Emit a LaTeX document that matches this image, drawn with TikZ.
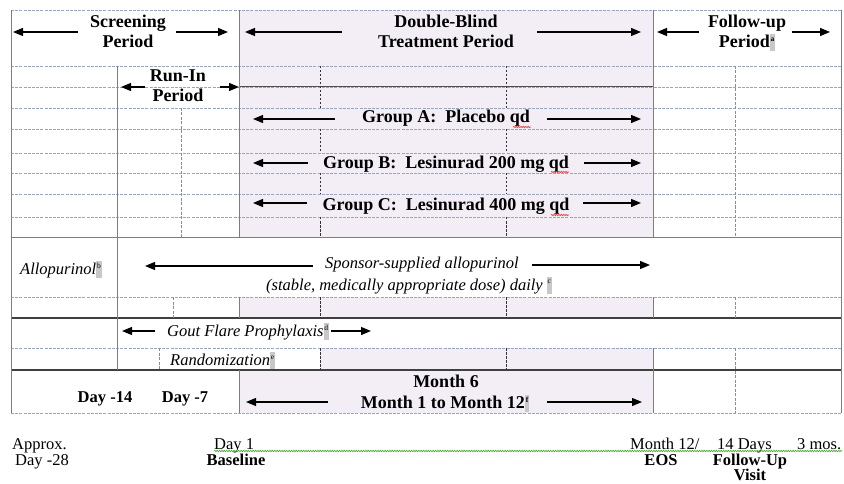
\documentclass[tikz,border=0pt]{standalone}
\usepackage{fontspec}
\setmainfont{Liberation Serif}
\usetikzlibrary{arrows.meta,decorations.pathmorphing}

\definecolor{dbfill}{RGB}{243,237,246}
\definecolor{gridblue}{RGB}{150,166,190}
\definecolor{rulegray}{RGB}{125,125,125}
\definecolor{spellgreen}{RGB}{80,170,60}
\definecolor{spellred}{RGB}{225,70,70}
\definecolor{fieldgray}{RGB}{200,200,200}

% superscript note letter in a grey field box
\newcommand{\fieldmark}[1]{{\setlength{\fboxsep}{0.8pt}\smash{\colorbox{fieldgray}{\rule[-3.5pt]{0pt}{16pt}\raisebox{6pt}{\fontsize{7.5}{7.5}\selectfont\upshape #1}}}}}

\begin{document}
\begin{tikzpicture}[x=1pt, y=-1pt,
    bigtxt/.style={font=\fontsize{18}{20}\selectfont\bfseries, inner sep=0pt},
    boldtxt/.style={font=\fontsize{16.5}{19}\selectfont\bfseries, inner sep=0pt, anchor=base},
    itxt/.style={font=\fontsize{16.5}{19}\selectfont\itshape, inner sep=0pt, anchor=base},
    rtxt/.style={font=\fontsize{16.5}{19}\selectfont, inner sep=0pt, anchor=base},
    arr/.style={-{Triangle[length=10pt,width=8pt]}, line width=1.2pt},
    gridline/.style={gridblue, dash pattern=on 3pt off 1.2pt, line width=0.7pt},
    solidv/.style={rulegray, line width=1pt},
    heavy/.style={black!75, line width=1.6pt},
    dashv/.style={black!80, dash pattern=on 2.5pt off 1.5pt, line width=0.8pt},
    lightv/.style={black!45, dash pattern=on 3pt off 1.5pt, line width=0.7pt},
    squiggle/.style={decorate, decoration={snake, amplitude=0.7pt, segment length=2.4pt}, line width=0.7pt}]
    \useasboundingbox (0,0) rectangle (844,484);

    % shaded double-blind column
    \fill[dbfill] (239,10) rectangle (653,237);
    \fill[dbfill] (239,297) rectangle (653,318);
    \fill[dbfill] (320,348) rectangle (653,370);
    \fill[dbfill] (239,370) rectangle (653,413);

    % table rows
    \foreach \y in {10,66,87,108,129,153,173,194,217,297,348,413}
        \draw[gridline] (11,\y) -- (841,\y);
    \draw[solidv] (11,237) -- (841,237);
    \draw[heavy] (11,318) -- (841,318);
    \draw[heavy] (11,370) -- (841,370);
    \draw[black!70, line width=1pt] (239,87) -- (653,87);

    % table columns
    \draw[solidv] (11,10) -- (11,413);
    \draw[solidv] (841,10) -- (841,413);
    \draw[solidv] (117,66) -- (117,370);
    \draw[solidv] (239,10) -- (239,237) (239,297) -- (239,318) (239,370) -- (239,413);
    \draw[solidv] (653,10) -- (653,237) (653,297) -- (653,318) (653,348) -- (653,413);
    \draw[lightv] (735,66) -- (735,237) (735,297) -- (735,318) (735,348) -- (735,413);
    \draw[lightv] (181,108) -- (181,237);
    \draw[lightv] (173,297) -- (173,318);
    \draw[lightv] (159,348) -- (159,370);
    \foreach \x in {320,506}
        \draw[dashv] (\x,66) -- (\x,108) (\x,129) -- (\x,153) (\x,173) -- (\x,194)
                     (\x,217) -- (\x,237) (\x,297) -- (\x,318) (\x,348) -- (\x,370);

    % period headings
    \node[bigtxt, align=center] (scr) at (128,31) {Screening\\Period};
    \node[bigtxt, align=center] (dbl) at (446,31) {Double-Blind\\Treatment Period};
    \node[bigtxt, align=center] (fup) at (747,31) {Follow-up\\Period\fieldmark{a}};
    \node[bigtxt, align=center] (run) at (178,86) {Run-In\\Period};

    \coordinate (scrA) at (78,32);  \coordinate (scrL) at (13,32);
    \coordinate (scrB) at (176,32); \coordinate (scrR) at (228,32);
    \coordinate (dblA) at (342,32); \coordinate (dblL) at (245,32);
    \coordinate (dblB) at (537,32); \coordinate (dblR) at (641,32);
    \coordinate (fupA) at (699,32); \coordinate (fupL) at (657,32);
    \coordinate (fupB) at (792,32); \coordinate (fupR) at (830,32);
    \coordinate (runA) at (145,87); \coordinate (runL) at (121,87);
    \coordinate (runB) at (220,87); \coordinate (runR) at (239,87);
    \draw[arr] (scrA) -- (scrL);
    \draw[arr] (scrB) -- (scrR);
    \draw[arr] (dblA) -- (dblL);
    \draw[arr] (dblB) -- (dblR);
    \draw[arr] (fupA) -- (fupL);
    \draw[arr] (fupB) -- (fupR);
    \draw[arr] (runA) -- (runL);
    \draw[arr] (runB) -- (runR);

    % treatment groups
    \node[bigtxt, anchor=base] (grpA) at (446,123) {Group A:\ \ Placebo qd};
    \node[bigtxt, anchor=base] (grpB) at (446,168) {Group B:\ \ Lesinurad 200 mg qd};
    \node[bigtxt, anchor=base] (grpC) at (446,211) {Group C:\ \ Lesinurad 400 mg qd};

    \coordinate (grpAa) at (335,119); \coordinate (grpAL) at (253,119);
    \coordinate (grpAb) at (547,119); \coordinate (grpAR) at (641,119);
    \coordinate (grpBa) at (308,163); \coordinate (grpBL) at (253,163);
    \coordinate (grpBb) at (584,163); \coordinate (grpBR) at (641,163);
    \coordinate (grpCa) at (307,203); \coordinate (grpCL) at (253,203);
    \coordinate (grpCb) at (583,203); \coordinate (grpCR) at (641,203);
    \draw[arr] (grpAa) -- (grpAL);
    \draw[arr] (grpAb) -- (grpAR);
    \draw[arr] (grpBa) -- (grpBL);
    \draw[arr] (grpBb) -- (grpBR);
    \draw[arr] (grpCa) -- (grpCL);
    \draw[arr] (grpCb) -- (grpCR);
    \draw[spellred, squiggle] (513,127) -- (531,127);
    \draw[spellred, squiggle] (551,172) -- (569,172);
    \draw[spellred, squiggle] (551,215) -- (569,215);

    % background medication
    \node[itxt, anchor=base west] (allo) at (20,274) {Allopurinol\fieldmark{b}};
    \node[itxt] (spons) at (422,269) {Sponsor-supplied allopurinol};
    \node[itxt] (dose) at (409,290) {(stable, medically appropriate dose) daily \fieldmark{c}};
    \coordinate (sponsA) at (313,266); \coordinate (sponsL) at (145,266);
    \coordinate (sponsB) at (532,265); \coordinate (sponsR) at (650,265);
    \draw[arr] (sponsA) -- (sponsL);
    \draw[arr] (sponsB) -- (sponsR);

    \node[itxt, anchor=base west] (gout) at (167,336) {Gout Flare Prophylaxis\fieldmark{d}};
    \coordinate (goutA) at (155,331); \coordinate (goutL) at (122,331);
    \coordinate (goutB) at (331,331); \coordinate (goutR) at (371,331);
    \draw[arr] (goutA) -- (goutL);
    \draw[arr] (goutB) -- (goutR);
    \node[itxt, anchor=base west] (rand) at (170,365) {Randomization\fieldmark{e}};

    % visit row
    \node[boldtxt] (d14) at (105,402) {Day -14};
    \node[boldtxt] (d7) at (185,402) {Day -7};
    \node[bigtxt, anchor=base] (m6) at (446,387) {Month 6};
    \node[bigtxt, anchor=base] (m12) at (445,408) {Month 1 to Month 12\fieldmark{f}};
    \coordinate (m12a) at (328,402); \coordinate (m12L) at (246,402);
    \coordinate (m12b) at (547,402); \coordinate (m12R) at (642,402);
    \draw[arr] (m12a) -- (m12L);
    \draw[arr] (m12b) -- (m12R);

    % time line below the table
    \node[rtxt, anchor=base west] (appr) at (12,449) {Approx.};
    \node[rtxt, anchor=base west] (d28) at (15,465) {Day -28};
    \node[rtxt, anchor=base west] (d1) at (214,449) {Day 1};
    \node[boldtxt] (base) at (236,465) {Baseline};
    \node[rtxt, anchor=base west] (mon12) at (630,449) {Month 12/};
    \node[boldtxt] (eos) at (661,465) {EOS};
    \node[rtxt, anchor=base west] (days14) at (717,449) {14 Days};
    \node[boldtxt] (fuv) at (750,465) {Follow-Up};
    \node[boldtxt] (visit) at (750,480) {Visit};
    \node[rtxt, anchor=base west] (mos3) at (797,449) {3 mos.};
    \coordinate (wavyL) at (214,451); \coordinate (wavyR) at (842,451);
    \draw[spellgreen, squiggle] (wavyL) -- (wavyR);
\end{tikzpicture}
\end{document}
